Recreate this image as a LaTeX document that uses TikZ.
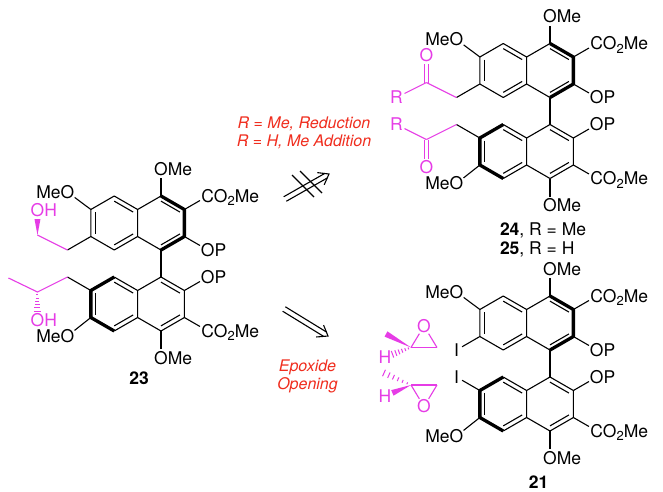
\documentclass[tikz,border=0pt]{standalone}
\usepackage{fontspec}
\setmainfont{TeX Gyre Heros}
\usetikzlibrary{calc}
\definecolor{pinkc}{RGB}{230,60,230}
\definecolor{redc}{RGB}{240,45,30}
\newcommand\sbs[1]{\raisebox{-3.6pt}{\fontsize{13}{13}\selectfont #1}}
\tikzset{
 bond/.style={line width=1.1pt, line cap=butt, line join=round},
 boldb/.style={line width=3.3pt, line cap=butt, line join=round},
 lab/.style={inner sep=0pt, outer sep=0pt, font=\fontsize{17.5}{20}\selectfont},
 plab/.style={lab, text=pinkc},
 redtxt/.style={inner sep=0pt, outer sep=0pt, text=redc, font=\fontsize{16}{19}\selectfont\itshape},
 numlab/.style={inner sep=0pt, outer sep=0pt, font=\fontsize{17.5}{20}\selectfont},
}
\newcommand\dbl[3]{\draw[bond] ($(#1)!0.19!(#3)$)--($(#2)!0.19!(#3)$);}
\newcommand\lbond[3][]{\draw[bond,#1] (#2)--($(#3)!9pt!(#2)$);}
\newcommand\wedgeb[3]{\fill[#3] (#1) -- ($(#2)!3pt!90:(#1)$) -- ($(#2)!3pt!-90:(#1)$) -- cycle;}
\newcommand\hashb[3]{%
 \foreach \fr in {0.14,0.31,0.48,0.65,0.82,1.0}{%
  \pgfmathsetmacro\hw{0.6+2.9*\fr}%
  \draw[line width=1pt,#3] ($($(#1)!\fr!(#2)$)!\hw pt!90:(#1)$) -- ($($(#1)!\fr!(#2)$)!\hw pt!-90:(#1)$);
 }}
\newcommand\cod[2]{%
 \coordinate (#1E) at ($(#2)!9pt!(#1)$);
 \draw[bond,pinkc] ($(#1)!2.3pt!90:(#1E)$)--($(#1E)!2.3pt!-90:(#1)$);
 \draw[bond,pinkc] ($(#1)!2.3pt!-90:(#1E)$)--($(#1E)!2.3pt!90:(#1)$);}
\newcommand\retro[2]{%
 \coordinate (#1b) at ($(#2)!3.4pt!(#1)$);
 \coordinate (#1c) at ($(#2)!9.5pt!(#1)$);
 \draw[bond] ($(#1)!2.6pt!90:(#2)$)--($(#1b)!2.6pt!-90:(#1)$);
 \draw[bond] ($(#1)!2.6pt!-90:(#2)$)--($(#1b)!2.6pt!90:(#1)$);
 \draw[bond,line join=miter] ($(#1c)!7pt!90:(#1)$)--(#2)--($(#1c)!7pt!-90:(#1)$);}
\newcommand\core[3]{%
\begin{scope}[shift={(#2,#3)}]
\coordinate (#1Cu) at (0,0);
\coordinate (#1Cl) at (-46.77,0);
\coordinate (#1R1) at (0,-27);
\coordinate (#1R2) at (23.38,-13.5);
\coordinate (#1R3) at (23.38,13.5);
\coordinate (#1R4) at (0,27);
\coordinate (#1R5) at (-23.38,13.5);
\coordinate (#1R6) at (-23.38,-13.5);
\coordinate (#1L1) at (-46.77,-27);
\coordinate (#1L2) at (-70.15,-13.5);
\coordinate (#1L3) at (-70.15,13.5);
\coordinate (#1L4) at (-46.77,27);
\coordinate (#1Du) at (0,81);
\coordinate (#1Dl) at (-46.77,81);
\coordinate (#1S1) at (0,54);
\coordinate (#1S2) at (23.38,67.5);
\coordinate (#1S3) at (23.38,94.5);
\coordinate (#1S4) at (0,108);
\coordinate (#1S5) at (-23.38,94.5);
\coordinate (#1S6) at (-23.38,67.5);
\coordinate (#1T1) at (-46.77,54);
\coordinate (#1T2) at (-70.15,67.5);
\coordinate (#1T3) at (-70.15,94.5);
\coordinate (#1T4) at (-46.77,108);
\coordinate (#1aOMeU) at (0,-54);
\coordinate (#1aCOU) at (46.77,-27);
\coordinate (#1aOPU) at (46.77,27);
\coordinate (#1aOPL) at (46.77,54);
\coordinate (#1aCOL) at (46.77,108);
\coordinate (#1aOMeL) at (0,135);
\coordinate (#1aL2) at (-93.53,-31);
\coordinate (#1aL3) at (-93.53,27);
\coordinate (#1aT2) at (-93.53,54);
\coordinate (#1aT3) at (-93.53,113);
\end{scope}
\draw[bond] (#1R4)--(#1R5)--(#1R6)--(#1R1);
\draw[bond] (#1R6)--(#1L1)--(#1L2)--(#1L3)--(#1L4)--(#1R5);
\draw[boldb] (#1R1)--(#1R2)--(#1R3)--(#1R4);
\draw[bond] (#1R4)--(#1S1);
\draw[bond] (#1T1)--(#1S6)--(#1S1)--(#1S2)--(#1S3)--(#1S4)--(#1S5)--(#1S6);
\draw[bond] (#1S5)--(#1T4);
\draw[boldb] (#1T1)--(#1T2)--(#1T3)--(#1T4);
\dbl{#1R1}{#1R2}{#1Cu}
\dbl{#1R3}{#1R4}{#1Cu}
\dbl{#1L1}{#1R6}{#1Cl}
\dbl{#1L2}{#1L3}{#1Cl}
\dbl{#1L4}{#1R5}{#1Cl}
\dbl{#1S1}{#1S2}{#1Du}
\dbl{#1S3}{#1S4}{#1Du}
\dbl{#1T1}{#1S6}{#1Dl}
\dbl{#1T2}{#1T3}{#1Dl}
\dbl{#1T4}{#1S5}{#1Dl}
\node[lab,anchor=base west] (#1nOMeU) at ($(#1aOMeU)+(-6.8,6.3)$) {OMe};
\lbond{#1R1}{#1aOMeU}
\node[lab,anchor=base west] (#1nCOU) at ($(#1aCOU)+(-6.3,6.3)$) {CO\sbs{2}Me};
\lbond{#1R2}{#1aCOU}
\node[lab,anchor=base west] (#1nOPU) at ($(#1aOPU)+(-6.8,6.3)$) {OP};
\lbond{#1R3}{#1aOPU}
\node[lab,anchor=base west] (#1nOPL) at ($(#1aOPL)+(-6.8,6.3)$) {OP};
\lbond{#1S2}{#1aOPL}
\node[lab,anchor=base west] (#1nCOL) at ($(#1aCOL)+(-6.3,6.3)$) {CO\sbs{2}Me};
\lbond{#1S3}{#1aCOL}
\node[lab,anchor=base west] (#1nOMeL) at ($(#1aOMeL)+(-6.8,6.3)$) {OMe};
\lbond{#1S4}{#1aOMeL}
\node[lab,anchor=base east] (#1nMeOU) at ($(#1aL2)+(6.8,6.3)$) {MeO};
\lbond{#1L2}{#1aL2}
\node[lab,anchor=base east] (#1nMeOL) at ($(#1aT3)+(6.8,6.3)$) {MeO};
\lbond{#1T3}{#1aT3}
}
\begin{document}
\begin{tikzpicture}[x=1pt,y=-1pt]
\fill[white] (0,0) rectangle (663,491);
\useasboundingbox (0,0) rectangle (663,491);

% ---------- compound 23 ----------
\core{a}{161}{223}
\coordinate (aV1) at ($(aaL3)+(-30,-15)$);
\coordinate (aO1) at ($(aV1)+(0,-25)$);
\coordinate (aV2) at ($(aaT2)+(-30,15)$);
\coordinate (aM2) at ($(aV2)+(-29,-14)$);
\coordinate (aO2) at ($(aV2)+(0,28.5)$);
\draw[bond] (aL3)--(aaL3);
\draw[bond,pinkc] (aaL3)--(aV1);
\coordinate (aW1) at ($(aO1)!9pt!(aV1)$);
\wedgeb{aV1}{aW1}{pinkc}
\node[plab,anchor=base west] (aOH1) at ($(aO1)+(-6.8,6.3)$) {OH};
\draw[bond] (aT2)--(aaT2);
\draw[bond,pinkc] (aM2)--(aV2)--(aaT2);
\coordinate (aW2) at ($(aO2)!9pt!(aV2)$);
\hashb{aV2}{aW2}{pinkc}
\node[plab,anchor=base west] (aOH2) at ($(aO2)+(-6.8,6.3)$) {OH};
\node[numlab,anchor=base] (n23) at (139,384) {\bfseries 23};

% ---------- compound 24/25 ----------
\core{b}{550}{70.5}
\coordinate (bK1) at ($(baL3)+(-30,-15)$);
\coordinate (bO1) at ($(bK1)+(0,-27.5)$);
\coordinate (bR1) at ($(bK1)+(-30,15)$);
\draw[bond] (bL3)--(baL3);
\draw[bond,pinkc] (baL3)--(bK1);
\lbond[pinkc]{bK1}{bR1}
\cod{bK1}{bO1}
\node[plab,anchor=base] (bnO1) at ($(bO1)+(0,6.3)$) {O};
\node[plab,anchor=base] (bnR1) at ($(bR1)+(0,6.3)$) {R};
\coordinate (bK2) at ($(baT2)+(-30,15)$);
\coordinate (bO2) at ($(bK2)+(0,28)$);
\coordinate (bR2) at ($(bK2)+(-30,-15)$);
\draw[bond] (bT2)--(baT2);
\draw[bond,pinkc] (baT2)--(bK2);
\lbond[pinkc]{bK2}{bR2}
\cod{bK2}{bO2}
\node[plab,anchor=base] (bnO2) at ($(bO2)+(0,6.3)$) {O};
\node[plab,anchor=base] (bnR2) at ($(bR2)+(0,6.3)$) {R};
\node[numlab,anchor=base west] (n24) at (500,235) {\textbf{24}, R = Me};
\node[numlab,anchor=base west] (n25) at (500,254) {\textbf{25}, R = H};

% ---------- compound 21 ----------
\core{c}{550}{323}
\draw[bond] (cL3)--($(caL3)!6.5pt!(cL3)$);
\node[lab,anchor=base] (cI1) at ($(caL3)+(0,6.3)$) {I};
\draw[bond] (cT2)--($(caT2)!6.5pt!(cT2)$);
\node[lab,anchor=base] (cI2) at ($(caT2)+(0,6.3)$) {I};
\node[numlab,anchor=base] (n21) at (538.5,488) {\bfseries 21};

% ---------- epoxides ----------
\coordinate (eC1) at (411,347.5);
\coordinate (eD1) at (437,347.5);
\coordinate (eO1) at (424,326);
\draw[bond,pinkc] (eC1)--(eD1);
\lbond[pinkc]{eC1}{eO1}
\lbond[pinkc]{eD1}{eO1}
\node[plab,anchor=base] (eOl1) at ($(eO1)+(0,6.3)$) {O};
\coordinate (eM1) at (386,334);
\wedgeb{eC1}{eM1}{pinkc}
\coordinate (eH1) at (385,357);
\coordinate (eHe1) at ($(eH1)!8pt!(eC1)$);
\hashb{eC1}{eHe1}{pinkc}
\node[plab,anchor=base] (eHl1) at ($(eH1)+(0,6.3)$) {H};

\coordinate (eC2) at (411,385);
\coordinate (eD2) at (437,385);
\coordinate (eO2) at (424,406.5);
\draw[bond,pinkc] (eC2)--(eD2);
\lbond[pinkc]{eC2}{eO2}
\lbond[pinkc]{eD2}{eO2}
\node[plab,anchor=base] (eOl2) at ($(eO2)+(0,6.3)$) {O};
\coordinate (eM2) at (384,373);
\hashb{eC2}{eM2}{pinkc}
\coordinate (eH2) at (385,396);
\coordinate (eHe2) at ($(eH2)!8pt!(eC2)$);
\wedgeb{eC2}{eHe2}{pinkc}
\node[plab,anchor=base] (eHl2) at ($(eH2)+(0,6.3)$) {H};

% ---------- arrows ----------
\coordinate (uT) at (285,199);
\coordinate (uH) at (329,174);
\retro{uT}{uH}
\coordinate (k1a) at (292,175);
\coordinate (k1b) at (314,197);
\coordinate (k2a) at (300,171);
\coordinate (k2b) at (322,193);
\draw[bond] (k1a)--(k1b);
\draw[bond] (k2a)--(k2b);
\coordinate (lT) at (284,309);
\coordinate (lH) at (328,336);
\retro{lT}{lH}

% ---------- red texts ----------
\node[redtxt,anchor=base] (t1) at (304,128) {R = Me, Reduction};
\node[redtxt,anchor=base] (t2) at (304,146) {R = H, Me Addition};
\node[redtxt,anchor=base] (t3) at (307.5,371) {Epoxide};
\node[redtxt,anchor=base] (t4) at (307.5,389) {Opening};
\end{tikzpicture}
\end{document}
